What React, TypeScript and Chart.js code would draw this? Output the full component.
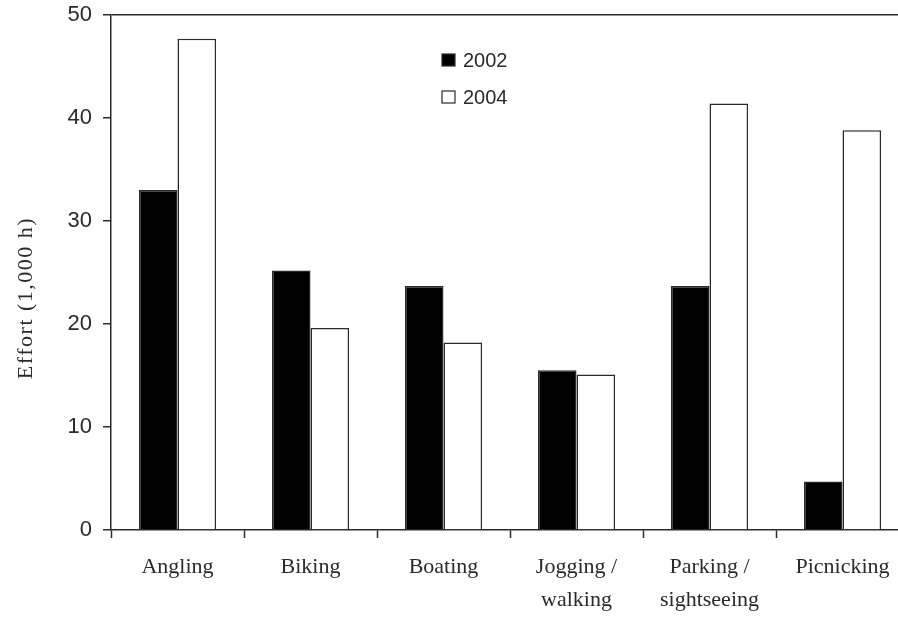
import React, { useEffect, useRef } from "react";
import { Chart, registerables } from "chart.js";

Chart.register(...registerables);

const categories: (string | string[])[] = [
  "Angling",
  "Biking",
  "Boating",
  ["Jogging /", "walking"],
  ["Parking /", "sightseeing"],
  "Picnicking",
];
const series2002 = [33.0, 25.2, 23.7, 15.5, 23.7, 4.7];
const series2004 = [47.7, 19.6, 18.2, 15.1, 41.4, 38.8];
const seriesLabels = ["2002", "2004"];
const yTitle = "Effort (1,000 h)";

const INK = "#2a2a2a";
const SANS = "'Liberation Sans Narrow', 'Liberation Sans', Arial, sans-serif";
const SERIF = "'Liberation Serif', 'Times New Roman', serif";

const overlayPlugin = {
  id: "overlay",
  afterDraw(chart: any) {
    const ctx = chart.ctx;
    ctx.save();
    // y-axis title
    ctx.translate(26, 298);
    ctx.rotate(-Math.PI / 2);
    ctx.font = `22px ${SERIF}`;
    (ctx as any).letterSpacing = "1.5px";
    ctx.fillStyle = INK;
    ctx.textAlign = "center";
    ctx.textBaseline = "middle";
    ctx.fillText(yTitle, 0, 0);
    ctx.restore();

    // legend
    ctx.save();
    const items = chart.data.datasets;
    const ys = [60, 97];
    items.forEach((ds: any, i: number) => {
      const y = ys[i];
      ctx.fillStyle = ds.backgroundColor;
      ctx.strokeStyle = INK;
      ctx.lineWidth = 1.2;
      ctx.fillRect(442, y - 6, 13, 12);
      ctx.strokeRect(442, y - 6, 13, 12);
      ctx.fillStyle = INK;
      ctx.font = `20px ${SANS}`;
      ctx.textAlign = "left";
      ctx.textBaseline = "middle";
      ctx.fillText(ds.label, 463, y + 1);
    });
    ctx.restore();
  },
};

export default function App() {
  const ref = useRef<HTMLCanvasElement | null>(null);
  useEffect(() => {
    if (!ref.current) return;
    const chart = new Chart(ref.current, {
      type: "bar",
      data: {
        labels: categories as any,
        datasets: [
          {
            label: seriesLabels[0],
            data: series2002,
            backgroundColor: "#000000",
            borderColor: INK,
            borderWidth: 1.5,
          },
          {
            label: seriesLabels[1],
            data: series2004,
            backgroundColor: "#ffffff",
            borderColor: INK,
            borderWidth: 1.5,
          },
        ],
      },
      options: {
        responsive: false,
        animation: false,
        devicePixelRatio: 1,
        layout: { padding: { top: 15, left: 0, right: 11, bottom: 0 } },
        plugins: {
          legend: { display: false },
          tooltip: { enabled: false },
          title: { display: false },
        },
        datasets: {
          bar: { categoryPercentage: 0.58, barPercentage: 1.0 },
        },
        scales: {
          x: {
            afterFit: (s: any) => {
              s.height = 87;
              s.paddingLeft = 0;
              s.paddingRight = 0;
            },
            grid: {
              offset: true,
              drawOnChartArea: false,
              color: "rgba(0,0,0,0)",
              tickColor: INK,
              tickLength: 8,
              tickWidth: 1.5,
            },
            border: { display: true, color: INK, width: 1.5 },
            ticks: {
              color: INK,
              padding: 13,
              maxRotation: 0,
              autoSkip: false,
              font: { family: SERIF, size: 22, lineHeight: 1.5 },
            },
          },
          y: {
            min: 0,
            max: 50,
            afterFit: (s: any) => {
              s.width = 111;
              s.paddingTop = 0;
              s.paddingBottom = 0;
            },
            grid: {
              color: (c: any) =>
                c.tick && c.tick.value === 50 ? INK : "rgba(0,0,0,0)",
              lineWidth: 1.5,
              tickColor: INK,
              tickLength: 8,
              tickWidth: 1.5,
            },
            border: { display: true, color: INK, width: 1.5 },
            ticks: {
              stepSize: 10,
              color: INK,
              padding: 11,
              font: { family: SANS, size: 22 },
            },
          },
        },
      },
      plugins: [overlayPlugin],
    });
    return () => chart.destroy();
  }, []);

  return (
    <div
      style={{
        position: "fixed",
        left: 0,
        top: 0,
        width: 898,
        height: 617,
        overflow: "hidden",
        background: "#ffffff",
      }}
    >
      <canvas ref={ref} width={920} height={617} style={{ display: "block" }} />
    </div>
  );
}
